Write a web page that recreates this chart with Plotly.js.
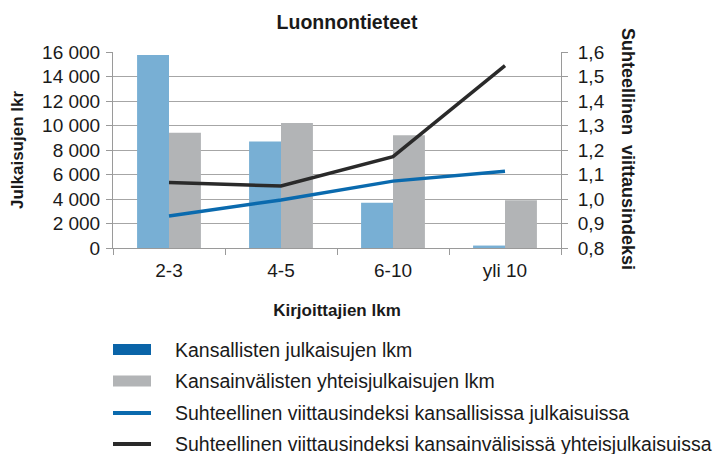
<!DOCTYPE html>
<html>
<head>
<meta charset="utf-8">
<script src="https://cdn.plot.ly/plotly-3.0.1.min.js"></script>
<style>html,body{margin:0;padding:0;background:#fff;}#chart{width:715px;height:454px;}</style>
</head>
<body>
<div id="chart"></div>
<script>
var categories = ["2-3", "4-5", "6-10", "yli 10"];
var kansallisetLkm = [15750, 8700, 3700, 200];
var kansainvalisetLkm = [9400, 10200, 9200, 3900];
var indeksiKansalliset = [0.931, 0.996, 1.073, 1.113];
var indeksiKansainvaliset = [1.067, 1.053, 1.173, 1.544];
var seriesNames = [
  "Kansallisten julkaisujen lkm",
  "Kansainvälisten yhteisjulkaisujen lkm",
  "Suhteellinen viittausindeksi kansallisissa julkaisuissa",
  "Suhteellinen viittausindeksi kansainvälisissä yhteisjulkaisuissa"
];

var FONT = "Liberation Sans, Arial, Helvetica, sans-serif";
var barBlue = "#78afd4", barGray = "#b2b4b6", legendBlue = "#0a64a8";
var lineBlue = "#0a6aae", lineBlack = "#2a2a2a";
var TXT = "#1a1a1a";

var traces = [
  {type: "bar", x: categories, y: kansallisetLkm, name: seriesNames[0], marker: {color: barBlue}, showlegend: false, hoverinfo: "skip"},
  {type: "bar", x: categories, y: kansainvalisetLkm, name: seriesNames[1], marker: {color: barGray}, showlegend: false, hoverinfo: "skip"},
  {type: "scatter", mode: "lines", x: categories, y: indeksiKansalliset, yaxis: "y2", name: seriesNames[2], line: {color: lineBlue, width: 3.5}, showlegend: false, hoverinfo: "skip"},
  {type: "scatter", mode: "lines", x: categories, y: indeksiKansainvaliset, yaxis: "y2", name: seriesNames[3], line: {color: lineBlack, width: 3.5}, showlegend: false, hoverinfo: "skip"}
];

// custom legend (paper coordinates, plot area 113..561 x, 52..248 y)
var pxX = function(px){ return (px - 113) / 448; };
var pxY = function(py){ return (248 - py) / 196; };
var rowsY = [349.5, 381, 413, 444];
var swatchColors = [legendBlue, barGray, lineBlue, lineBlack];
var shapes = [], annotations = [];
for (var i = 0; i < 4; i++) {
  if (i < 2) {
    shapes.push({type: "rect", xref: "paper", yref: "paper", x0: pxX(113), x1: pxX(151), y0: pxY(rowsY[i] + 5.5), y1: pxY(rowsY[i] - 5.5), fillcolor: swatchColors[i], line: {width: 0}});
  } else {
    shapes.push({type: "line", xref: "paper", yref: "paper", x0: pxX(113), x1: pxX(151), y0: pxY(rowsY[i]), y1: pxY(rowsY[i]), line: {color: swatchColors[i], width: 4}});
  }
  annotations.push({xref: "paper", yref: "paper", x: pxX(173), y: pxY(rowsY[i]), xanchor: "left", yanchor: "middle", showarrow: false, text: seriesNames[i], font: {family: FONT, size: 19.5, color: TXT}});
}
annotations.push({xref: "paper", yref: "paper", x: pxX(628), y: pxY(149), xanchor: "center", yanchor: "middle", showarrow: false, textangle: 90, text: "<b>Suhteellinen  viittausindeksi</b>", font: {family: FONT, size: 18, color: TXT}});

var layout = {
  width: 715, height: 454,
  margin: {l: 113, r: 154, t: 52, b: 206, pad: 0},
  paper_bgcolor: "#fff", plot_bgcolor: "#fff",
  separators: ", ",
  font: {family: FONT, size: 19, color: TXT},
  title: {text: "<b>Luonnontieteet</b>", font: {family: FONT, size: 19.5, color: TXT}, xref: "paper", x: pxX(347), xanchor: "center", yref: "container", y: 1 - 22/454, yanchor: "middle"},
  barmode: "group", bargap: 0.43, bargroupgap: 0,
  showlegend: false,
  xaxis: {
    type: "category", tickson: "boundaries", ticks: "outside", ticklen: 6, tickcolor: "#9a9a9a",
    showline: true, linecolor: "#9a9a9a", linewidth: 1, showgrid: false, zeroline: false,
    tickfont: {family: FONT, size: 19, color: TXT}, ticklabelstandoff: 5,
    title: {text: "<b>Kirjoittajien lkm</b>", font: {family: FONT, size: 17, color: TXT}, standoff: 24},
    automargin: false
  },
  yaxis: {
    range: [0, 16000], dtick: 2000, tick0: 0, tickformat: ",.0f",
    ticks: "outside", ticklen: 6, tickcolor: "#9a9a9a",
    showline: true, linecolor: "#9a9a9a", linewidth: 1,
    showgrid: true, gridcolor: "#a6a6a6", gridwidth: 1, zeroline: false,
    tickfont: {family: FONT, size: 19, color: TXT}, ticklabelstandoff: 2,
    title: {text: "<b>Julkaisujen lkr</b>", font: {family: FONT, size: 17, color: TXT}, standoff: 14},
    automargin: false
  },
  yaxis2: {
    overlaying: "y", side: "right", range: [0.8, 1.6], dtick: 0.1, tick0: 0.8, tickformat: ".1f",
    ticks: "outside", ticklen: 6, tickcolor: "#9a9a9a",
    showline: true, linecolor: "#9a9a9a", linewidth: 1,
    showgrid: false, zeroline: false,
    tickfont: {family: FONT, size: 19, color: TXT}, ticklabelstandoff: 6,
    automargin: false
  },
  shapes: shapes,
  annotations: annotations
};

Plotly.newPlot("chart", traces, layout, {displayModeBar: false, staticPlot: true});
</script>
</body>
</html>
